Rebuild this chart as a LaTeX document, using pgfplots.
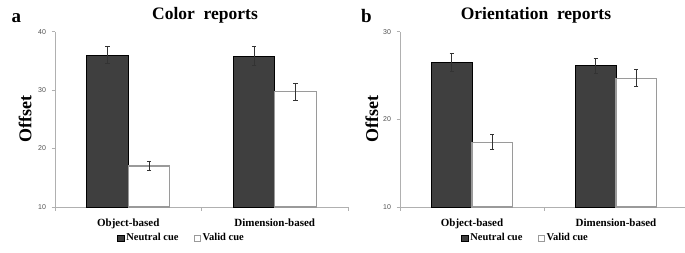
\documentclass[border=0pt]{standalone}
\usepackage{pgfplots}
\pgfplotsset{compat=1.18}
\usepackage{fontspec}
\setmainfont{Liberation Serif}
\newfontfamily\tickfont{Liberation Sans}
\definecolor{darkbar}{HTML}{3F3F3F}
\definecolor{validedge}{HTML}{9A9A9A}
\definecolor{axisgray}{HTML}{B0B0B0}
\definecolor{ticktext}{HTML}{505050}

\pgfplotstableread{
x y e
0 36.0 1.5
1 35.8 1.65
}\colorneutral
\pgfplotstableread{
x y e
0 17.0 0.75
1 29.7 1.5
}\colorvalid
\pgfplotstableread{
x y e
0 26.5 1.0
1 26.1 0.85
}\orineutral
\pgfplotstableread{
x y e
0 17.4 0.85
1 24.7 0.95
}\orivalid

\pgfplotsset{
  myaxis/.style={
    scale only axis,
    anchor=south west,
    ybar=0pt,
    axis x line*=bottom,
    axis y line*=left,
    axis line style={axisgray, line width=0.8pt},
    xmin=-0.5, xmax=1.5,
    xtick={0,1},
    xticklabels={Object-based,Dimension-based},
    xtick style={draw=none},
    extra x ticks={-0.5,0.5,1.5},
    extra x tick labels={},
    extra x tick style={xtick style={draw=axisgray, line width=0.8pt}, major tick length=3.5pt, tick align=outside},
    ytick style={draw=axisgray, line width=0.8pt},
    tick align=outside,
    major tick length=3.5pt,
    xticklabel style={font=\fontsize{11}{13}\selectfont\bfseries, yshift=-4.5pt},
    yticklabel style={font=\tickfont\fontsize{7}{8}\selectfont, text=ticktext, xshift=-2pt},
    /pgf/number format/assume math mode=true,
    ylabel={Offset},
    ylabel style={font=\fontsize{18}{20}\selectfont\bfseries, anchor=center},
    title style={font=\fontsize{17.5}{20}\selectfont\bfseries, anchor=base, yshift=-6pt},
    error bars/y dir=both,
    error bars/y explicit,
    error bars/error bar style={color=black!80, line width=0.8pt},
    error bars/error mark options={rotate=90, mark size=2.2pt, line width=0.8pt, color=black!80},
    legend columns=2,
    legend style={draw=none, fill=none, font=\fontsize{10.5}{12}\selectfont\bfseries,
      anchor=center, /tikz/every even column/.append style={column sep=13pt},
      nodes={inner xsep=2pt},
      inner sep=0pt},
    legend image code/.code={\draw[#1, line width=0.6pt] (0pt,-3.2pt) rectangle (6.4pt,3.2pt);},
  },
  neutralbar/.style={fill=darkbar, draw=black, line width=0.8pt},
  validbar/.style={fill=white, draw=validedge, line width=1.2pt},
}

\begin{document}
\begin{tikzpicture}[x=1pt,y=1pt]
\useasboundingbox (0,0) rectangle (685,252);

\begin{axis}[myaxis,
  at={(55pt,45pt)}, width=293pt, height=175.3pt,
  ymin=10, ymax=40, ytick={10,20,30,40},
  bar width=41.5pt,
  title={Color\ \ reports}, title style={at={(0.512,1.071)}},
  ylabel style={at={(rel axis cs:-0.102,0.5)}},
  legend style={at={(0.432,-0.177)}},
]
\addplot+[neutralbar] table[x=x,y=y,y error=e]{\colorneutral};
\addplot+[validbar] table[x=x,y=y,y error=e]{\colorvalid};
\legend{Neutral cue, Valid cue}
\end{axis}

\begin{axis}[myaxis,
  at={(400pt,45pt)}, width=288pt, height=175.3pt,
  ymin=10, ymax=30, ytick={10,20,30},
  bar width=40.5pt,
  title={Orientation\ \ reports}, title style={at={(0.472,1.071)}},
  ylabel style={at={(rel axis cs:-0.098,0.5)}},
  legend style={at={(0.436,-0.177)}},
]
\addplot+[neutralbar] table[x=x,y=y,y error=e]{\orineutral};
\addplot+[validbar] table[x=x,y=y,y error=e]{\orivalid};
\legend{Neutral cue, Valid cue}
\end{axis}

\node[font=\fontsize{19}{21}\selectfont\bfseries, anchor=base west, inner sep=0pt] at (11.5,229.3) {a};
\node[font=\fontsize{19}{21}\selectfont\bfseries, anchor=base west, inner sep=0pt] at (361,229.3) {b};
\end{tikzpicture}
\end{document}
